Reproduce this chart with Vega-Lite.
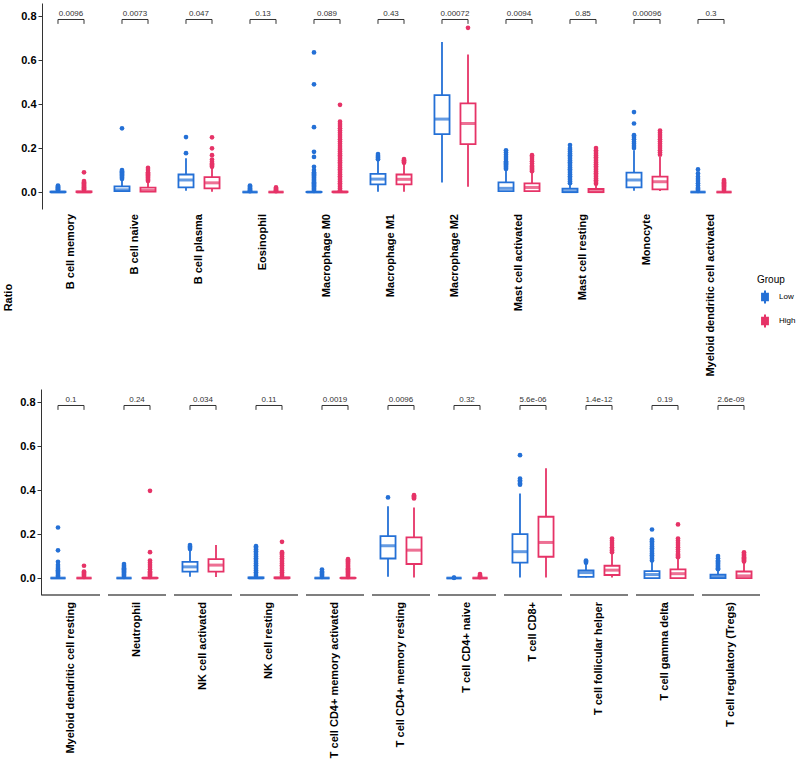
{
"$schema": "https://vega.github.io/schema/vega-lite/v6.json",
"padding": {"left": 2, "top": 3, "right": 2, "bottom": 2},
"title": {"text": "Ratio", "orient": "left", "anchor": "middle", "font": "Liberation Sans", "fontSize": 11, "fontWeight": "bold", "color": "black", "offset": 6, "dx": 83},
"datasets": {
"top": [
{"c":"B cell memory","k":"p","p":"0.0096"},
{"c":"B cell naive","k":"p","p":"0.0073"},
{"c":"B cell plasma","k":"p","p":"0.047"},
{"c":"Eosinophil","k":"p","p":"0.13"},
{"c":"Macrophage M0","k":"p","p":"0.089"},
{"c":"Macrophage M1","k":"p","p":"0.43"},
{"c":"Macrophage M2","k":"p","p":"0.00072"},
{"c":"Mast cell activated","k":"p","p":"0.0094"},
{"c":"Mast cell resting","k":"p","p":"0.85"},
{"c":"Monocyte","k":"p","p":"0.00096"},
{"c":"Myeloid dendritic cell activated","k":"p","p":"0.3"},
{"c":"B cell memory","g":"Low","k":"b","lo":0,"q1":0,"med":0,"q3":0.002,"hi":0.005},
{"c":"B cell memory","g":"High","k":"b","lo":0,"q1":0,"med":0,"q3":0.003,"hi":0.007},
{"c":"B cell naive","g":"Low","k":"b","lo":0,"q1":0.004,"med":0.01,"q3":0.026,"hi":0.055},
{"c":"B cell naive","g":"High","k":"b","lo":0,"q1":0.002,"med":0.007,"q3":0.02,"hi":0.045},
{"c":"B cell plasma","g":"Low","k":"b","lo":0.006,"q1":0.021,"med":0.055,"q3":0.08,"hi":0.154},
{"c":"B cell plasma","g":"High","k":"b","lo":0.002,"q1":0.017,"med":0.042,"q3":0.068,"hi":0.11},
{"c":"Eosinophil","g":"Low","k":"b","lo":0,"q1":0,"med":0,"q3":0,"hi":0.001},
{"c":"Eosinophil","g":"High","k":"b","lo":0,"q1":0,"med":0,"q3":0,"hi":0.001},
{"c":"Macrophage M0","g":"Low","k":"b","lo":0,"q1":0,"med":0,"q3":0.001,"hi":0.003},
{"c":"Macrophage M0","g":"High","k":"b","lo":0,"q1":0,"med":0,"q3":0.002,"hi":0.005},
{"c":"Macrophage M1","g":"Low","k":"b","lo":0.001,"q1":0.035,"med":0.059,"q3":0.083,"hi":0.141},
{"c":"Macrophage M1","g":"High","k":"b","lo":0.001,"q1":0.035,"med":0.058,"q3":0.08,"hi":0.13},
{"c":"Macrophage M2","g":"Low","k":"b","lo":0.044,"q1":0.264,"med":0.332,"q3":0.441,"hi":0.683},
{"c":"Macrophage M2","g":"High","k":"b","lo":0.024,"q1":0.218,"med":0.312,"q3":0.403,"hi":0.626},
{"c":"Mast cell activated","g":"Low","k":"b","lo":0,"q1":0.004,"med":0.017,"q3":0.044,"hi":0.1},
{"c":"Mast cell activated","g":"High","k":"b","lo":0,"q1":0.004,"med":0.021,"q3":0.04,"hi":0.09},
{"c":"Mast cell resting","g":"Low","k":"b","lo":0,"q1":0,"med":0.002,"q3":0.015,"hi":0.035},
{"c":"Mast cell resting","g":"High","k":"b","lo":0,"q1":0,"med":0.002,"q3":0.014,"hi":0.033},
{"c":"Monocyte","g":"Low","k":"b","lo":0.006,"q1":0.021,"med":0.055,"q3":0.088,"hi":0.19},
{"c":"Monocyte","g":"High","k":"b","lo":0.005,"q1":0.012,"med":0.047,"q3":0.07,"hi":0.16},
{"c":"Myeloid dendritic cell activated","g":"Low","k":"b","lo":0,"q1":0,"med":0,"q3":0,"hi":0.001},
{"c":"Myeloid dendritic cell activated","g":"High","k":"b","lo":0,"q1":0,"med":0,"q3":0,"hi":0.001},
{"c":"B cell memory","g":"Low","k":"o","v":0.007},{"c":"B cell memory","g":"Low","k":"o","v":0.01},{"c":"B cell memory","g":"Low","k":"o","v":0.013},{"c":"B cell memory","g":"Low","k":"o","v":0.016},{"c":"B cell memory","g":"Low","k":"o","v":0.019},{"c":"B cell memory","g":"Low","k":"o","v":0.022},{"c":"B cell memory","g":"Low","k":"o","v":0.026},{"c":"B cell memory","g":"Low","k":"o","v":0.03},
{"c":"B cell memory","g":"High","k":"o","v":0.009},{"c":"B cell memory","g":"High","k":"o","v":0.012},{"c":"B cell memory","g":"High","k":"o","v":0.015},{"c":"B cell memory","g":"High","k":"o","v":0.018},{"c":"B cell memory","g":"High","k":"o","v":0.021},{"c":"B cell memory","g":"High","k":"o","v":0.025},{"c":"B cell memory","g":"High","k":"o","v":0.03},{"c":"B cell memory","g":"High","k":"o","v":0.035},{"c":"B cell memory","g":"High","k":"o","v":0.04},{"c":"B cell memory","g":"High","k":"o","v":0.045},{"c":"B cell memory","g":"High","k":"o","v":0.05},{"c":"B cell memory","g":"High","k":"o","v":0.09},
{"c":"B cell naive","g":"Low","k":"o","v":0.06},{"c":"B cell naive","g":"Low","k":"o","v":0.065},{"c":"B cell naive","g":"Low","k":"o","v":0.07},{"c":"B cell naive","g":"Low","k":"o","v":0.075},{"c":"B cell naive","g":"Low","k":"o","v":0.08},{"c":"B cell naive","g":"Low","k":"o","v":0.085},{"c":"B cell naive","g":"Low","k":"o","v":0.09},{"c":"B cell naive","g":"Low","k":"o","v":0.095},{"c":"B cell naive","g":"Low","k":"o","v":0.1},{"c":"B cell naive","g":"Low","k":"o","v":0.29},
{"c":"B cell naive","g":"High","k":"o","v":0.05},{"c":"B cell naive","g":"High","k":"o","v":0.055},{"c":"B cell naive","g":"High","k":"o","v":0.06},{"c":"B cell naive","g":"High","k":"o","v":0.065},{"c":"B cell naive","g":"High","k":"o","v":0.07},{"c":"B cell naive","g":"High","k":"o","v":0.075},{"c":"B cell naive","g":"High","k":"o","v":0.08},{"c":"B cell naive","g":"High","k":"o","v":0.085},{"c":"B cell naive","g":"High","k":"o","v":0.09},{"c":"B cell naive","g":"High","k":"o","v":0.1},{"c":"B cell naive","g":"High","k":"o","v":0.11},
{"c":"B cell plasma","g":"Low","k":"o","v":0.177},{"c":"B cell plasma","g":"Low","k":"o","v":0.25},
{"c":"B cell plasma","g":"High","k":"o","v":0.115},{"c":"B cell plasma","g":"High","k":"o","v":0.12},{"c":"B cell plasma","g":"High","k":"o","v":0.125},{"c":"B cell plasma","g":"High","k":"o","v":0.13},{"c":"B cell plasma","g":"High","k":"o","v":0.138},{"c":"B cell plasma","g":"High","k":"o","v":0.148},{"c":"B cell plasma","g":"High","k":"o","v":0.168},{"c":"B cell plasma","g":"High","k":"o","v":0.199},{"c":"B cell plasma","g":"High","k":"o","v":0.249},
{"c":"Eosinophil","g":"Low","k":"o","v":0.004},{"c":"Eosinophil","g":"Low","k":"o","v":0.008},{"c":"Eosinophil","g":"Low","k":"o","v":0.012},{"c":"Eosinophil","g":"Low","k":"o","v":0.016},{"c":"Eosinophil","g":"Low","k":"o","v":0.02},{"c":"Eosinophil","g":"Low","k":"o","v":0.025},{"c":"Eosinophil","g":"Low","k":"o","v":0.03},
{"c":"Eosinophil","g":"High","k":"o","v":0.004},{"c":"Eosinophil","g":"High","k":"o","v":0.008},{"c":"Eosinophil","g":"High","k":"o","v":0.012},{"c":"Eosinophil","g":"High","k":"o","v":0.016},{"c":"Eosinophil","g":"High","k":"o","v":0.021},
{"c":"Macrophage M0","g":"Low","k":"o","v":0.005},{"c":"Macrophage M0","g":"Low","k":"o","v":0.01},{"c":"Macrophage M0","g":"Low","k":"o","v":0.015},{"c":"Macrophage M0","g":"Low","k":"o","v":0.02},{"c":"Macrophage M0","g":"Low","k":"o","v":0.025},{"c":"Macrophage M0","g":"Low","k":"o","v":0.03},{"c":"Macrophage M0","g":"Low","k":"o","v":0.035},{"c":"Macrophage M0","g":"Low","k":"o","v":0.04},{"c":"Macrophage M0","g":"Low","k":"o","v":0.045},{"c":"Macrophage M0","g":"Low","k":"o","v":0.05},{"c":"Macrophage M0","g":"Low","k":"o","v":0.055},{"c":"Macrophage M0","g":"Low","k":"o","v":0.06},{"c":"Macrophage M0","g":"Low","k":"o","v":0.065},{"c":"Macrophage M0","g":"Low","k":"o","v":0.07},{"c":"Macrophage M0","g":"Low","k":"o","v":0.075},{"c":"Macrophage M0","g":"Low","k":"o","v":0.08},{"c":"Macrophage M0","g":"Low","k":"o","v":0.085},{"c":"Macrophage M0","g":"Low","k":"o","v":0.09},{"c":"Macrophage M0","g":"Low","k":"o","v":0.1},{"c":"Macrophage M0","g":"Low","k":"o","v":0.115},{"c":"Macrophage M0","g":"Low","k":"o","v":0.16},{"c":"Macrophage M0","g":"Low","k":"o","v":0.183},{"c":"Macrophage M0","g":"Low","k":"o","v":0.295},{"c":"Macrophage M0","g":"Low","k":"o","v":0.49},{"c":"Macrophage M0","g":"Low","k":"o","v":0.635},
{"c":"Macrophage M0","g":"High","k":"o","v":0.008},{"c":"Macrophage M0","g":"High","k":"o","v":0.016},{"c":"Macrophage M0","g":"High","k":"o","v":0.024},{"c":"Macrophage M0","g":"High","k":"o","v":0.032},{"c":"Macrophage M0","g":"High","k":"o","v":0.04},{"c":"Macrophage M0","g":"High","k":"o","v":0.048},{"c":"Macrophage M0","g":"High","k":"o","v":0.056},{"c":"Macrophage M0","g":"High","k":"o","v":0.064},{"c":"Macrophage M0","g":"High","k":"o","v":0.072},{"c":"Macrophage M0","g":"High","k":"o","v":0.08},{"c":"Macrophage M0","g":"High","k":"o","v":0.088},{"c":"Macrophage M0","g":"High","k":"o","v":0.096},{"c":"Macrophage M0","g":"High","k":"o","v":0.104},{"c":"Macrophage M0","g":"High","k":"o","v":0.112},{"c":"Macrophage M0","g":"High","k":"o","v":0.12},{"c":"Macrophage M0","g":"High","k":"o","v":0.128},{"c":"Macrophage M0","g":"High","k":"o","v":0.136},{"c":"Macrophage M0","g":"High","k":"o","v":0.144},{"c":"Macrophage M0","g":"High","k":"o","v":0.152},{"c":"Macrophage M0","g":"High","k":"o","v":0.16},{"c":"Macrophage M0","g":"High","k":"o","v":0.168},{"c":"Macrophage M0","g":"High","k":"o","v":0.176},{"c":"Macrophage M0","g":"High","k":"o","v":0.184},{"c":"Macrophage M0","g":"High","k":"o","v":0.192},{"c":"Macrophage M0","g":"High","k":"o","v":0.2},{"c":"Macrophage M0","g":"High","k":"o","v":0.21},{"c":"Macrophage M0","g":"High","k":"o","v":0.22},{"c":"Macrophage M0","g":"High","k":"o","v":0.23},{"c":"Macrophage M0","g":"High","k":"o","v":0.24},{"c":"Macrophage M0","g":"High","k":"o","v":0.25},{"c":"Macrophage M0","g":"High","k":"o","v":0.26},{"c":"Macrophage M0","g":"High","k":"o","v":0.27},{"c":"Macrophage M0","g":"High","k":"o","v":0.28},{"c":"Macrophage M0","g":"High","k":"o","v":0.29},{"c":"Macrophage M0","g":"High","k":"o","v":0.3},{"c":"Macrophage M0","g":"High","k":"o","v":0.31},{"c":"Macrophage M0","g":"High","k":"o","v":0.32},{"c":"Macrophage M0","g":"High","k":"o","v":0.397},
{"c":"Macrophage M1","g":"Low","k":"o","v":0.149},{"c":"Macrophage M1","g":"Low","k":"o","v":0.155},{"c":"Macrophage M1","g":"Low","k":"o","v":0.16},{"c":"Macrophage M1","g":"Low","k":"o","v":0.165},{"c":"Macrophage M1","g":"Low","k":"o","v":0.173},
{"c":"Macrophage M1","g":"High","k":"o","v":0.133},{"c":"Macrophage M1","g":"High","k":"o","v":0.137},{"c":"Macrophage M1","g":"High","k":"o","v":0.141},{"c":"Macrophage M1","g":"High","k":"o","v":0.145},{"c":"Macrophage M1","g":"High","k":"o","v":0.15},
{"c":"Macrophage M2","g":"High","k":"o","v":0.747},
{"c":"Mast cell activated","g":"Low","k":"o","v":0.105},{"c":"Mast cell activated","g":"Low","k":"o","v":0.11},{"c":"Mast cell activated","g":"Low","k":"o","v":0.115},{"c":"Mast cell activated","g":"Low","k":"o","v":0.12},{"c":"Mast cell activated","g":"Low","k":"o","v":0.125},{"c":"Mast cell activated","g":"Low","k":"o","v":0.13},{"c":"Mast cell activated","g":"Low","k":"o","v":0.135},{"c":"Mast cell activated","g":"Low","k":"o","v":0.14},{"c":"Mast cell activated","g":"Low","k":"o","v":0.15},{"c":"Mast cell activated","g":"Low","k":"o","v":0.16},{"c":"Mast cell activated","g":"Low","k":"o","v":0.17},{"c":"Mast cell activated","g":"Low","k":"o","v":0.18},{"c":"Mast cell activated","g":"Low","k":"o","v":0.19},
{"c":"Mast cell activated","g":"High","k":"o","v":0.095},{"c":"Mast cell activated","g":"High","k":"o","v":0.1},{"c":"Mast cell activated","g":"High","k":"o","v":0.105},{"c":"Mast cell activated","g":"High","k":"o","v":0.11},{"c":"Mast cell activated","g":"High","k":"o","v":0.115},{"c":"Mast cell activated","g":"High","k":"o","v":0.12},{"c":"Mast cell activated","g":"High","k":"o","v":0.13},{"c":"Mast cell activated","g":"High","k":"o","v":0.14},{"c":"Mast cell activated","g":"High","k":"o","v":0.15},{"c":"Mast cell activated","g":"High","k":"o","v":0.16},{"c":"Mast cell activated","g":"High","k":"o","v":0.168},
{"c":"Mast cell resting","g":"Low","k":"o","v":0.04},{"c":"Mast cell resting","g":"Low","k":"o","v":0.048},{"c":"Mast cell resting","g":"Low","k":"o","v":0.056},{"c":"Mast cell resting","g":"Low","k":"o","v":0.064},{"c":"Mast cell resting","g":"Low","k":"o","v":0.072},{"c":"Mast cell resting","g":"Low","k":"o","v":0.08},{"c":"Mast cell resting","g":"Low","k":"o","v":0.088},{"c":"Mast cell resting","g":"Low","k":"o","v":0.096},{"c":"Mast cell resting","g":"Low","k":"o","v":0.104},{"c":"Mast cell resting","g":"Low","k":"o","v":0.112},{"c":"Mast cell resting","g":"Low","k":"o","v":0.12},{"c":"Mast cell resting","g":"Low","k":"o","v":0.128},{"c":"Mast cell resting","g":"Low","k":"o","v":0.136},{"c":"Mast cell resting","g":"Low","k":"o","v":0.144},{"c":"Mast cell resting","g":"Low","k":"o","v":0.152},{"c":"Mast cell resting","g":"Low","k":"o","v":0.16},{"c":"Mast cell resting","g":"Low","k":"o","v":0.168},{"c":"Mast cell resting","g":"Low","k":"o","v":0.176},{"c":"Mast cell resting","g":"Low","k":"o","v":0.184},{"c":"Mast cell resting","g":"Low","k":"o","v":0.192},{"c":"Mast cell resting","g":"Low","k":"o","v":0.2},{"c":"Mast cell resting","g":"Low","k":"o","v":0.214},
{"c":"Mast cell resting","g":"High","k":"o","v":0.038},{"c":"Mast cell resting","g":"High","k":"o","v":0.046},{"c":"Mast cell resting","g":"High","k":"o","v":0.054},{"c":"Mast cell resting","g":"High","k":"o","v":0.062},{"c":"Mast cell resting","g":"High","k":"o","v":0.07},{"c":"Mast cell resting","g":"High","k":"o","v":0.078},{"c":"Mast cell resting","g":"High","k":"o","v":0.086},{"c":"Mast cell resting","g":"High","k":"o","v":0.094},{"c":"Mast cell resting","g":"High","k":"o","v":0.102},{"c":"Mast cell resting","g":"High","k":"o","v":0.11},{"c":"Mast cell resting","g":"High","k":"o","v":0.118},{"c":"Mast cell resting","g":"High","k":"o","v":0.126},{"c":"Mast cell resting","g":"High","k":"o","v":0.134},{"c":"Mast cell resting","g":"High","k":"o","v":0.142},{"c":"Mast cell resting","g":"High","k":"o","v":0.15},{"c":"Mast cell resting","g":"High","k":"o","v":0.158},{"c":"Mast cell resting","g":"High","k":"o","v":0.166},{"c":"Mast cell resting","g":"High","k":"o","v":0.174},{"c":"Mast cell resting","g":"High","k":"o","v":0.182},{"c":"Mast cell resting","g":"High","k":"o","v":0.19},{"c":"Mast cell resting","g":"High","k":"o","v":0.2},
{"c":"Monocyte","g":"Low","k":"o","v":0.2},{"c":"Monocyte","g":"Low","k":"o","v":0.21},{"c":"Monocyte","g":"Low","k":"o","v":0.22},{"c":"Monocyte","g":"Low","k":"o","v":0.229},{"c":"Monocyte","g":"Low","k":"o","v":0.24},{"c":"Monocyte","g":"Low","k":"o","v":0.25},{"c":"Monocyte","g":"Low","k":"o","v":0.259},{"c":"Monocyte","g":"Low","k":"o","v":0.312},{"c":"Monocyte","g":"Low","k":"o","v":0.364},
{"c":"Monocyte","g":"High","k":"o","v":0.17},{"c":"Monocyte","g":"High","k":"o","v":0.18},{"c":"Monocyte","g":"High","k":"o","v":0.19},{"c":"Monocyte","g":"High","k":"o","v":0.2},{"c":"Monocyte","g":"High","k":"o","v":0.21},{"c":"Monocyte","g":"High","k":"o","v":0.22},{"c":"Monocyte","g":"High","k":"o","v":0.23},{"c":"Monocyte","g":"High","k":"o","v":0.24},{"c":"Monocyte","g":"High","k":"o","v":0.25},{"c":"Monocyte","g":"High","k":"o","v":0.26},{"c":"Monocyte","g":"High","k":"o","v":0.27},{"c":"Monocyte","g":"High","k":"o","v":0.28},
{"c":"Myeloid dendritic cell activated","g":"Low","k":"o","v":0.005},{"c":"Myeloid dendritic cell activated","g":"Low","k":"o","v":0.01},{"c":"Myeloid dendritic cell activated","g":"Low","k":"o","v":0.015},{"c":"Myeloid dendritic cell activated","g":"Low","k":"o","v":0.02},{"c":"Myeloid dendritic cell activated","g":"Low","k":"o","v":0.03},{"c":"Myeloid dendritic cell activated","g":"Low","k":"o","v":0.04},{"c":"Myeloid dendritic cell activated","g":"Low","k":"o","v":0.05},{"c":"Myeloid dendritic cell activated","g":"Low","k":"o","v":0.06},{"c":"Myeloid dendritic cell activated","g":"Low","k":"o","v":0.07},{"c":"Myeloid dendritic cell activated","g":"Low","k":"o","v":0.085},{"c":"Myeloid dendritic cell activated","g":"Low","k":"o","v":0.103},
{"c":"Myeloid dendritic cell activated","g":"High","k":"o","v":0.005},{"c":"Myeloid dendritic cell activated","g":"High","k":"o","v":0.01},{"c":"Myeloid dendritic cell activated","g":"High","k":"o","v":0.015},{"c":"Myeloid dendritic cell activated","g":"High","k":"o","v":0.02},{"c":"Myeloid dendritic cell activated","g":"High","k":"o","v":0.025},{"c":"Myeloid dendritic cell activated","g":"High","k":"o","v":0.03},{"c":"Myeloid dendritic cell activated","g":"High","k":"o","v":0.035},{"c":"Myeloid dendritic cell activated","g":"High","k":"o","v":0.04},{"c":"Myeloid dendritic cell activated","g":"High","k":"o","v":0.045},{"c":"Myeloid dendritic cell activated","g":"High","k":"o","v":0.05},{"c":"Myeloid dendritic cell activated","g":"High","k":"o","v":0.055}
],
"bottom": [
{"c":"Myeloid dendritic cell resting","k":"p","p":"0.1"},
{"c":"Neutrophil","k":"p","p":"0.24"},
{"c":"NK cell activated","k":"p","p":"0.034"},
{"c":"NK cell resting","k":"p","p":"0.11"},
{"c":"T cell CD4+ memory activated","k":"p","p":"0.0019"},
{"c":"T cell CD4+ memory resting","k":"p","p":"0.0096"},
{"c":"T cell CD4+ naive","k":"p","p":"0.32"},
{"c":"T cell CD8+","k":"p","p":"5.6e-06"},
{"c":"T cell follicular helper","k":"p","p":"1.4e-12"},
{"c":"T cell gamma delta","k":"p","p":"0.19"},
{"c":"T cell regulatory (Tregs)","k":"p","p":"2.6e-09"},
{"c":"Myeloid dendritic cell resting","g":"Low","k":"b","lo":0,"q1":0,"med":0,"q3":0,"hi":0.001},
{"c":"Myeloid dendritic cell resting","g":"High","k":"b","lo":0,"q1":0,"med":0,"q3":0,"hi":0.001},
{"c":"Neutrophil","g":"Low","k":"b","lo":0,"q1":0,"med":0,"q3":0,"hi":0.001},
{"c":"Neutrophil","g":"High","k":"b","lo":0,"q1":0,"med":0,"q3":0.001,"hi":0.003},
{"c":"NK cell activated","g":"Low","k":"b","lo":0.006,"q1":0.029,"med":0.051,"q3":0.074,"hi":0.128},
{"c":"NK cell activated","g":"High","k":"b","lo":0.005,"q1":0.029,"med":0.059,"q3":0.086,"hi":0.15},
{"c":"NK cell resting","g":"Low","k":"b","lo":0,"q1":0,"med":0,"q3":0.003,"hi":0.008},
{"c":"NK cell resting","g":"High","k":"b","lo":0,"q1":0,"med":0,"q3":0.003,"hi":0.008},
{"c":"T cell CD4+ memory activated","g":"Low","k":"b","lo":0,"q1":0,"med":0,"q3":0,"hi":0.001},
{"c":"T cell CD4+ memory activated","g":"High","k":"b","lo":0,"q1":0,"med":0,"q3":0.001,"hi":0.002},
{"c":"T cell CD4+ memory resting","g":"Low","k":"b","lo":0.006,"q1":0.089,"med":0.147,"q3":0.191,"hi":0.327},
{"c":"T cell CD4+ memory resting","g":"High","k":"b","lo":0.003,"q1":0.064,"med":0.127,"q3":0.185,"hi":0.321},
{"c":"T cell CD4+ naive","g":"Low","k":"b","lo":0,"q1":0,"med":0,"q3":0,"hi":0},
{"c":"T cell CD4+ naive","g":"High","k":"b","lo":0,"q1":0,"med":0,"q3":0,"hi":0.001},
{"c":"T cell CD8+","g":"Low","k":"b","lo":0.003,"q1":0.07,"med":0.12,"q3":0.2,"hi":0.385},
{"c":"T cell CD8+","g":"High","k":"b","lo":0.003,"q1":0.097,"med":0.162,"q3":0.279,"hi":0.499},
{"c":"T cell follicular helper","g":"Low","k":"b","lo":0.003,"q1":0.005,"med":0.025,"q3":0.035,"hi":0.065},
{"c":"T cell follicular helper","g":"High","k":"b","lo":0.003,"q1":0.014,"med":0.036,"q3":0.056,"hi":0.112},
{"c":"T cell gamma delta","g":"Low","k":"b","lo":0,"q1":0,"med":0.016,"q3":0.032,"hi":0.075},
{"c":"T cell gamma delta","g":"High","k":"b","lo":0,"q1":0,"med":0.02,"q3":0.04,"hi":0.09},
{"c":"T cell regulatory (Tregs)","g":"Low","k":"b","lo":0,"q1":0,"med":0.004,"q3":0.015,"hi":0.035},
{"c":"T cell regulatory (Tregs)","g":"High","k":"b","lo":0,"q1":0,"med":0.01,"q3":0.03,"hi":0.07},
{"c":"Myeloid dendritic cell resting","g":"Low","k":"o","v":0.006},{"c":"Myeloid dendritic cell resting","g":"Low","k":"o","v":0.012},{"c":"Myeloid dendritic cell resting","g":"Low","k":"o","v":0.018},{"c":"Myeloid dendritic cell resting","g":"Low","k":"o","v":0.024},{"c":"Myeloid dendritic cell resting","g":"Low","k":"o","v":0.03},{"c":"Myeloid dendritic cell resting","g":"Low","k":"o","v":0.036},{"c":"Myeloid dendritic cell resting","g":"Low","k":"o","v":0.042},{"c":"Myeloid dendritic cell resting","g":"Low","k":"o","v":0.05},{"c":"Myeloid dendritic cell resting","g":"Low","k":"o","v":0.06},{"c":"Myeloid dendritic cell resting","g":"Low","k":"o","v":0.074},{"c":"Myeloid dendritic cell resting","g":"Low","k":"o","v":0.126},{"c":"Myeloid dendritic cell resting","g":"Low","k":"o","v":0.23},
{"c":"Myeloid dendritic cell resting","g":"High","k":"o","v":0.005},{"c":"Myeloid dendritic cell resting","g":"High","k":"o","v":0.01},{"c":"Myeloid dendritic cell resting","g":"High","k":"o","v":0.015},{"c":"Myeloid dendritic cell resting","g":"High","k":"o","v":0.02},{"c":"Myeloid dendritic cell resting","g":"High","k":"o","v":0.025},{"c":"Myeloid dendritic cell resting","g":"High","k":"o","v":0.03},{"c":"Myeloid dendritic cell resting","g":"High","k":"o","v":0.056},
{"c":"Neutrophil","g":"Low","k":"o","v":0.005},{"c":"Neutrophil","g":"Low","k":"o","v":0.01},{"c":"Neutrophil","g":"Low","k":"o","v":0.015},{"c":"Neutrophil","g":"Low","k":"o","v":0.02},{"c":"Neutrophil","g":"Low","k":"o","v":0.025},{"c":"Neutrophil","g":"Low","k":"o","v":0.03},{"c":"Neutrophil","g":"Low","k":"o","v":0.035},{"c":"Neutrophil","g":"Low","k":"o","v":0.04},{"c":"Neutrophil","g":"Low","k":"o","v":0.045},{"c":"Neutrophil","g":"Low","k":"o","v":0.05},{"c":"Neutrophil","g":"Low","k":"o","v":0.056},{"c":"Neutrophil","g":"Low","k":"o","v":0.064},
{"c":"Neutrophil","g":"High","k":"o","v":0.005},{"c":"Neutrophil","g":"High","k":"o","v":0.01},{"c":"Neutrophil","g":"High","k":"o","v":0.015},{"c":"Neutrophil","g":"High","k":"o","v":0.02},{"c":"Neutrophil","g":"High","k":"o","v":0.025},{"c":"Neutrophil","g":"High","k":"o","v":0.03},{"c":"Neutrophil","g":"High","k":"o","v":0.04},{"c":"Neutrophil","g":"High","k":"o","v":0.05},{"c":"Neutrophil","g":"High","k":"o","v":0.06},{"c":"Neutrophil","g":"High","k":"o","v":0.07},{"c":"Neutrophil","g":"High","k":"o","v":0.08},{"c":"Neutrophil","g":"High","k":"o","v":0.118},{"c":"Neutrophil","g":"High","k":"o","v":0.397},
{"c":"NK cell activated","g":"Low","k":"o","v":0.132},{"c":"NK cell activated","g":"Low","k":"o","v":0.138},{"c":"NK cell activated","g":"Low","k":"o","v":0.144},{"c":"NK cell activated","g":"Low","k":"o","v":0.15},
{"c":"NK cell resting","g":"Low","k":"o","v":0.01},{"c":"NK cell resting","g":"Low","k":"o","v":0.018},{"c":"NK cell resting","g":"Low","k":"o","v":0.026},{"c":"NK cell resting","g":"Low","k":"o","v":0.034},{"c":"NK cell resting","g":"Low","k":"o","v":0.042},{"c":"NK cell resting","g":"Low","k":"o","v":0.05},{"c":"NK cell resting","g":"Low","k":"o","v":0.058},{"c":"NK cell resting","g":"Low","k":"o","v":0.066},{"c":"NK cell resting","g":"Low","k":"o","v":0.074},{"c":"NK cell resting","g":"Low","k":"o","v":0.082},{"c":"NK cell resting","g":"Low","k":"o","v":0.09},{"c":"NK cell resting","g":"Low","k":"o","v":0.098},{"c":"NK cell resting","g":"Low","k":"o","v":0.106},{"c":"NK cell resting","g":"Low","k":"o","v":0.114},{"c":"NK cell resting","g":"Low","k":"o","v":0.122},{"c":"NK cell resting","g":"Low","k":"o","v":0.13},{"c":"NK cell resting","g":"Low","k":"o","v":0.138},{"c":"NK cell resting","g":"Low","k":"o","v":0.145},
{"c":"NK cell resting","g":"High","k":"o","v":0.01},{"c":"NK cell resting","g":"High","k":"o","v":0.018},{"c":"NK cell resting","g":"High","k":"o","v":0.026},{"c":"NK cell resting","g":"High","k":"o","v":0.034},{"c":"NK cell resting","g":"High","k":"o","v":0.042},{"c":"NK cell resting","g":"High","k":"o","v":0.05},{"c":"NK cell resting","g":"High","k":"o","v":0.058},{"c":"NK cell resting","g":"High","k":"o","v":0.066},{"c":"NK cell resting","g":"High","k":"o","v":0.074},{"c":"NK cell resting","g":"High","k":"o","v":0.082},{"c":"NK cell resting","g":"High","k":"o","v":0.09},{"c":"NK cell resting","g":"High","k":"o","v":0.098},{"c":"NK cell resting","g":"High","k":"o","v":0.106},{"c":"NK cell resting","g":"High","k":"o","v":0.112},{"c":"NK cell resting","g":"High","k":"o","v":0.118},{"c":"NK cell resting","g":"High","k":"o","v":0.165},
{"c":"T cell CD4+ memory activated","g":"Low","k":"o","v":0.005},{"c":"T cell CD4+ memory activated","g":"Low","k":"o","v":0.01},{"c":"T cell CD4+ memory activated","g":"Low","k":"o","v":0.015},{"c":"T cell CD4+ memory activated","g":"Low","k":"o","v":0.02},{"c":"T cell CD4+ memory activated","g":"Low","k":"o","v":0.025},{"c":"T cell CD4+ memory activated","g":"Low","k":"o","v":0.03},{"c":"T cell CD4+ memory activated","g":"Low","k":"o","v":0.039},
{"c":"T cell CD4+ memory activated","g":"High","k":"o","v":0.005},{"c":"T cell CD4+ memory activated","g":"High","k":"o","v":0.01},{"c":"T cell CD4+ memory activated","g":"High","k":"o","v":0.015},{"c":"T cell CD4+ memory activated","g":"High","k":"o","v":0.02},{"c":"T cell CD4+ memory activated","g":"High","k":"o","v":0.025},{"c":"T cell CD4+ memory activated","g":"High","k":"o","v":0.03},{"c":"T cell CD4+ memory activated","g":"High","k":"o","v":0.035},{"c":"T cell CD4+ memory activated","g":"High","k":"o","v":0.04},{"c":"T cell CD4+ memory activated","g":"High","k":"o","v":0.045},{"c":"T cell CD4+ memory activated","g":"High","k":"o","v":0.05},{"c":"T cell CD4+ memory activated","g":"High","k":"o","v":0.055},{"c":"T cell CD4+ memory activated","g":"High","k":"o","v":0.06},{"c":"T cell CD4+ memory activated","g":"High","k":"o","v":0.065},{"c":"T cell CD4+ memory activated","g":"High","k":"o","v":0.07},{"c":"T cell CD4+ memory activated","g":"High","k":"o","v":0.075},{"c":"T cell CD4+ memory activated","g":"High","k":"o","v":0.08},{"c":"T cell CD4+ memory activated","g":"High","k":"o","v":0.086},
{"c":"T cell CD4+ memory resting","g":"Low","k":"o","v":0.367},
{"c":"T cell CD4+ memory resting","g":"High","k":"o","v":0.362},{"c":"T cell CD4+ memory resting","g":"High","k":"o","v":0.367},{"c":"T cell CD4+ memory resting","g":"High","k":"o","v":0.372},{"c":"T cell CD4+ memory resting","g":"High","k":"o","v":0.377},
{"c":"T cell CD4+ naive","g":"Low","k":"o","v":0.001},{"c":"T cell CD4+ naive","g":"Low","k":"o","v":0.002},
{"c":"T cell CD4+ naive","g":"High","k":"o","v":0.004},{"c":"T cell CD4+ naive","g":"High","k":"o","v":0.008},{"c":"T cell CD4+ naive","g":"High","k":"o","v":0.012},{"c":"T cell CD4+ naive","g":"High","k":"o","v":0.018},
{"c":"T cell CD8+","g":"Low","k":"o","v":0.425},{"c":"T cell CD8+","g":"Low","k":"o","v":0.43},{"c":"T cell CD8+","g":"Low","k":"o","v":0.438},{"c":"T cell CD8+","g":"Low","k":"o","v":0.445},{"c":"T cell CD8+","g":"Low","k":"o","v":0.453},{"c":"T cell CD8+","g":"Low","k":"o","v":0.559},
{"c":"T cell follicular helper","g":"Low","k":"o","v":0.07},{"c":"T cell follicular helper","g":"Low","k":"o","v":0.075},{"c":"T cell follicular helper","g":"Low","k":"o","v":0.08},
{"c":"T cell follicular helper","g":"High","k":"o","v":0.118},{"c":"T cell follicular helper","g":"High","k":"o","v":0.125},{"c":"T cell follicular helper","g":"High","k":"o","v":0.132},{"c":"T cell follicular helper","g":"High","k":"o","v":0.14},{"c":"T cell follicular helper","g":"High","k":"o","v":0.15},{"c":"T cell follicular helper","g":"High","k":"o","v":0.16},{"c":"T cell follicular helper","g":"High","k":"o","v":0.17},{"c":"T cell follicular helper","g":"High","k":"o","v":0.18},
{"c":"T cell gamma delta","g":"Low","k":"o","v":0.08},{"c":"T cell gamma delta","g":"Low","k":"o","v":0.088},{"c":"T cell gamma delta","g":"Low","k":"o","v":0.096},{"c":"T cell gamma delta","g":"Low","k":"o","v":0.104},{"c":"T cell gamma delta","g":"Low","k":"o","v":0.112},{"c":"T cell gamma delta","g":"Low","k":"o","v":0.12},{"c":"T cell gamma delta","g":"Low","k":"o","v":0.128},{"c":"T cell gamma delta","g":"Low","k":"o","v":0.136},{"c":"T cell gamma delta","g":"Low","k":"o","v":0.144},{"c":"T cell gamma delta","g":"Low","k":"o","v":0.152},{"c":"T cell gamma delta","g":"Low","k":"o","v":0.16},{"c":"T cell gamma delta","g":"Low","k":"o","v":0.168},{"c":"T cell gamma delta","g":"Low","k":"o","v":0.175},{"c":"T cell gamma delta","g":"Low","k":"o","v":0.221},
{"c":"T cell gamma delta","g":"High","k":"o","v":0.095},{"c":"T cell gamma delta","g":"High","k":"o","v":0.1},{"c":"T cell gamma delta","g":"High","k":"o","v":0.105},{"c":"T cell gamma delta","g":"High","k":"o","v":0.11},{"c":"T cell gamma delta","g":"High","k":"o","v":0.12},{"c":"T cell gamma delta","g":"High","k":"o","v":0.13},{"c":"T cell gamma delta","g":"High","k":"o","v":0.14},{"c":"T cell gamma delta","g":"High","k":"o","v":0.15},{"c":"T cell gamma delta","g":"High","k":"o","v":0.16},{"c":"T cell gamma delta","g":"High","k":"o","v":0.17},{"c":"T cell gamma delta","g":"High","k":"o","v":0.18},{"c":"T cell gamma delta","g":"High","k":"o","v":0.244},
{"c":"T cell regulatory (Tregs)","g":"Low","k":"o","v":0.04},{"c":"T cell regulatory (Tregs)","g":"Low","k":"o","v":0.045},{"c":"T cell regulatory (Tregs)","g":"Low","k":"o","v":0.05},{"c":"T cell regulatory (Tregs)","g":"Low","k":"o","v":0.055},{"c":"T cell regulatory (Tregs)","g":"Low","k":"o","v":0.06},{"c":"T cell regulatory (Tregs)","g":"Low","k":"o","v":0.065},{"c":"T cell regulatory (Tregs)","g":"Low","k":"o","v":0.07},{"c":"T cell regulatory (Tregs)","g":"Low","k":"o","v":0.075},{"c":"T cell regulatory (Tregs)","g":"Low","k":"o","v":0.08},{"c":"T cell regulatory (Tregs)","g":"Low","k":"o","v":0.09},{"c":"T cell regulatory (Tregs)","g":"Low","k":"o","v":0.1},
{"c":"T cell regulatory (Tregs)","g":"High","k":"o","v":0.075},{"c":"T cell regulatory (Tregs)","g":"High","k":"o","v":0.08},{"c":"T cell regulatory (Tregs)","g":"High","k":"o","v":0.085},{"c":"T cell regulatory (Tregs)","g":"High","k":"o","v":0.09},{"c":"T cell regulatory (Tregs)","g":"High","k":"o","v":0.095},{"c":"T cell regulatory (Tregs)","g":"High","k":"o","v":0.1},{"c":"T cell regulatory (Tregs)","g":"High","k":"o","v":0.105},{"c":"T cell regulatory (Tregs)","g":"High","k":"o","v":0.11},{"c":"T cell regulatory (Tregs)","g":"High","k":"o","v":0.117}
]
},
"spacing": 12,
"vconcat": [
{
 "data": {"name": "top"},
 "facet": {"column": {"field": "c", "type": "nominal", "sort": ["B cell memory","B cell naive","B cell plasma","Eosinophil","Macrophage M0","Macrophage M1","Macrophage M2","Mast cell activated","Mast cell resting","Monocyte","Myeloid dendritic cell activated"],
   "header": {"title": null, "labelOrient": "bottom", "labelAngle": -90, "labelAlign": "right", "labelBaseline": "middle", "labelFont": "Liberation Sans", "labelFontWeight": "bold", "labelFontSize": 11, "labelColor": "black", "labelPadding": 5, "labelLimit": 400}}},
 "spacing": 6,
 "spec": {
  "width": 58, "height": 206,
  "layer": [
    {"transform": [{"filter": "datum.k == 'b'"}],
     "mark": {"type": "rule", "strokeWidth": 1.8},
     "encoding": {
       "x": {"field": "g", "type": "nominal", "scale": {"domain": ["Low","High"], "paddingInner": 0.42, "paddingOuter": 0.325}, "axis": null},
       "y": {"field": "lo", "type": "quantitative", "scale": {"domain": [-0.077, 0.86], "nice": false, "zero": false}, "axis": {"values": [0,0.2,0.4,0.6,0.8], "format": ".1f", "title": null, "grid": false, "labelFont": "Liberation Sans", "labelFontWeight": "bold", "labelFontSize": 11, "labelColor": "black", "domainColor": "#333", "tickColor": "#333", "tickSize": 4, "labelPadding": 2}},
       "y2": {"field": "q1"},
       "color": {"field": "g", "type": "nominal", "scale": {"domain": ["Low","High"], "range": ["#2470D6","#E63367"]},
         "legend": {"title": "Group", "orient": "none", "legendX": 715, "legendY": 272, "titleFont": "Liberation Sans", "titleFontSize": 10, "titleFontWeight": "normal", "titleColor": "black", "labelFont": "Liberation Sans", "labelFontSize": 8, "labelColor": "black", "symbolType": "M-0.45,-0.5H0.45V0.5H-0.45Z M-0.45,0H0.45 M0,-0.5V-1 M0,0.5V1", "symbolSize": 170, "symbolStrokeWidth": 2, "rowPadding": 2, "titlePadding": 4, "labelOffset": 6,
           "encode": {"symbols": {"update": {"fill": {"value": "white"}, "stroke": {"scale": "color", "field": "value"}, "strokeWidth": {"value": 2}}}}}}
     }},
    {"transform": [{"filter": "datum.k == 'b'"}],
     "mark": {"type": "rule", "strokeWidth": 1.8},
     "encoding": {"x": {"field": "g", "type": "nominal"}, "y": {"field": "q3", "type": "quantitative"}, "y2": {"field": "hi"}, "color": {"field": "g", "type": "nominal"}}},
    {"transform": [{"filter": "datum.k == 'b'"}],
     "mark": {"type": "bar", "filled": false, "fill": "white", "strokeWidth": 1.8, "width": {"band": 1}},
     "encoding": {"x": {"field": "g", "type": "nominal"}, "y": {"field": "q1", "type": "quantitative"}, "y2": {"field": "q3"}, "color": {"field": "g", "type": "nominal"}}},
    {"transform": [{"filter": "datum.k == 'b'"}],
     "mark": {"type": "tick", "thickness": 3, "size": 15},
     "encoding": {"x": {"field": "g", "type": "nominal"}, "y": {"field": "med", "type": "quantitative"}, "color": {"field": "g", "type": "nominal"}}},
    {"transform": [{"filter": "datum.k == 'o'"}],
     "mark": {"type": "point", "filled": true, "size": 22, "opacity": 1},
     "encoding": {"x": {"field": "g", "type": "nominal"}, "y": {"field": "v", "type": "quantitative"}, "color": {"field": "g", "type": "nominal"}}},
    {"transform": [{"filter": "datum.k == 'b'"}],
     "mark": {"type": "rule", "color": "#333", "strokeWidth": 1},
     "encoding": {"x": {"field": "g", "type": "nominal"}, "y": {"datum": 0.765}, "y2": {"datum": 0.785}}},
    {"transform": [{"filter": "datum.k == 'p'"}],
     "mark": {"type": "rule", "color": "#333", "strokeWidth": 1},
     "encoding": {"x": {"datum": "Low"}, "x2": {"datum": "High"}, "y": {"datum": 0.785}}},
    {"transform": [{"filter": "datum.k == 'p'"}],
     "mark": {"type": "text", "font": "Liberation Sans", "fontSize": 8, "color": "#333", "baseline": "bottom", "align": "center", "dx": 13, "dy": -1},
     "encoding": {"x": {"datum": "Low"}, "y": {"datum": 0.785}, "text": {"field": "p"}}}
  ]
 }
},
{
 "data": {"name": "bottom"},
 "facet": {"column": {"field": "c", "type": "nominal", "sort": ["Myeloid dendritic cell resting","Neutrophil","NK cell activated","NK cell resting","T cell CD4+ memory activated","T cell CD4+ memory resting","T cell CD4+ naive","T cell CD8+","T cell follicular helper","T cell gamma delta","T cell regulatory (Tregs)"],
   "header": {"title": null, "labelOrient": "bottom", "labelAngle": -90, "labelAlign": "right", "labelBaseline": "middle", "labelFont": "Liberation Sans", "labelFontWeight": "bold", "labelFontSize": 11, "labelColor": "black", "labelPadding": 6, "labelLimit": 400}}},
 "spacing": 6,
 "spec": {
  "width": 58, "height": 206,
  "layer": [
    {"transform": [{"filter": "datum.k == 'b'"}],
     "mark": {"type": "rule", "strokeWidth": 1.8},
     "encoding": {
       "x": {"field": "g", "type": "nominal", "scale": {"domain": ["Low","High"], "paddingInner": 0.42, "paddingOuter": 0.325}, "axis": null},
       "y": {"field": "lo", "type": "quantitative", "scale": {"domain": [-0.077, 0.86], "nice": false, "zero": false}, "axis": {"values": [0,0.2,0.4,0.6,0.8], "format": ".1f", "title": null, "grid": false, "labelFont": "Liberation Sans", "labelFontWeight": "bold", "labelFontSize": 11, "labelColor": "black", "domainColor": "#333", "tickColor": "#333", "tickSize": 4, "labelPadding": 2}},
       "y2": {"field": "q1"},
       "color": {"field": "g", "type": "nominal"}
     }},
    {"transform": [{"filter": "datum.k == 'b'"}],
     "mark": {"type": "rule", "strokeWidth": 1.8},
     "encoding": {"x": {"field": "g", "type": "nominal"}, "y": {"field": "q3", "type": "quantitative"}, "y2": {"field": "hi"}, "color": {"field": "g", "type": "nominal"}}},
    {"transform": [{"filter": "datum.k == 'b'"}],
     "mark": {"type": "bar", "filled": false, "fill": "white", "strokeWidth": 1.8, "width": {"band": 1}},
     "encoding": {"x": {"field": "g", "type": "nominal"}, "y": {"field": "q1", "type": "quantitative"}, "y2": {"field": "q3"}, "color": {"field": "g", "type": "nominal"}}},
    {"transform": [{"filter": "datum.k == 'b'"}],
     "mark": {"type": "tick", "thickness": 3, "size": 15},
     "encoding": {"x": {"field": "g", "type": "nominal"}, "y": {"field": "med", "type": "quantitative"}, "color": {"field": "g", "type": "nominal"}}},
    {"transform": [{"filter": "datum.k == 'o'"}],
     "mark": {"type": "point", "filled": true, "size": 22, "opacity": 1},
     "encoding": {"x": {"field": "g", "type": "nominal"}, "y": {"field": "v", "type": "quantitative"}, "color": {"field": "g", "type": "nominal"}}},
    {"transform": [{"filter": "datum.k == 'b'"}],
     "mark": {"type": "rule", "color": "#333", "strokeWidth": 1},
     "encoding": {"x": {"field": "g", "type": "nominal"}, "y": {"datum": 0.765}, "y2": {"datum": 0.785}}},
    {"transform": [{"filter": "datum.k == 'p'"}],
     "mark": {"type": "rule", "color": "#333", "strokeWidth": 1},
     "encoding": {"x": {"datum": "Low"}, "x2": {"datum": "High"}, "y": {"datum": 0.785}}},
    {"transform": [{"filter": "datum.k == 'p'"}],
     "mark": {"type": "text", "font": "Liberation Sans", "fontSize": 8, "color": "#333", "baseline": "bottom", "align": "center", "dx": 13, "dy": -1},
     "encoding": {"x": {"datum": "Low"}, "y": {"datum": 0.785}, "text": {"field": "p"}}},
    {"transform": [{"filter": "datum.k == 'p'"}],
     "mark": {"type": "rule", "color": "#555", "strokeWidth": 1.5},
     "encoding": {"y": {"datum": -0.077}}}
  ]
 }
}
],
"config": {"font": "Liberation Sans", "view": {"stroke": null}}
}
